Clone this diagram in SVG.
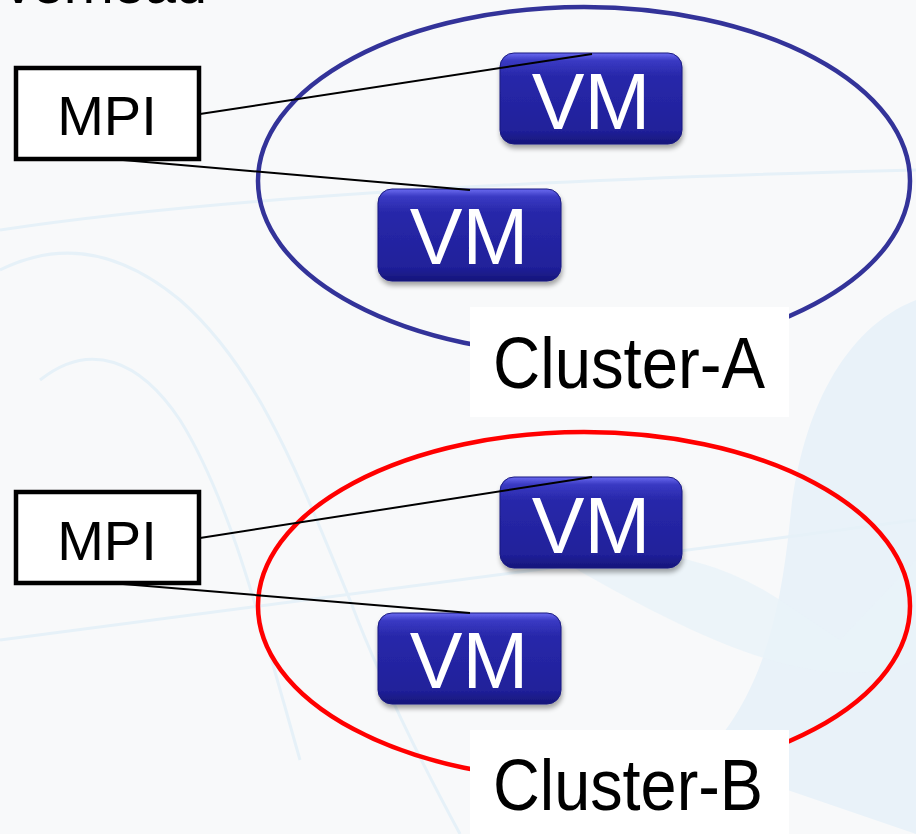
<svg xmlns="http://www.w3.org/2000/svg" width="916" height="834" viewBox="0 0 916 834">
  <defs>
    <linearGradient id="vmFill" x1="0" y1="0" x2="0" y2="1">
      <stop offset="0" stop-color="#6b6bf0"/>
      <stop offset="0.08" stop-color="#3a3ac4"/>
      <stop offset="0.25" stop-color="#2828aa"/>
      <stop offset="0.85" stop-color="#20209a"/>
      <stop offset="1" stop-color="#16167a"/>
    </linearGradient>
    <filter id="shadow" x="-10%" y="-10%" width="125%" height="135%">
      <feGaussianBlur in="SourceAlpha" stdDeviation="2.5"/>
      <feOffset dx="1" dy="4" result="b"/>
      <feComponentTransfer><feFuncA type="linear" slope="0.35"/></feComponentTransfer>
      <feMerge><feMergeNode/><feMergeNode in="SourceGraphic"/></feMerge>
    </filter>
    <style>
      .mpi rect { fill: #ffffff; stroke: #000000; stroke-width: 4.5; }
      .mpi text { font-family: "Liberation Sans", Arial, sans-serif; font-size: 56px; fill: #000000; text-anchor: middle; }
      .vm rect { fill: url(#vmFill); stroke: #1a1a80; stroke-width: 1; }
      .vm text { font-family: "Liberation Sans", Arial, sans-serif; font-size: 79px; fill: #ffffff; text-anchor: middle; }
      .cluster { fill: none; stroke-width: 4.5; }
      .label rect { fill: #ffffff; }
      .label text { font-family: "Liberation Sans", Arial, sans-serif; font-size: 73px; fill: #000000; }
      .wire { stroke: #000000; stroke-width: 2; fill: none; }
      .swoosh { fill: none; stroke: #e6f1f8; stroke-width: 3; }
    </style>
  </defs>

  <!-- slide background with faint decorative swooshes -->
  <rect x="0" y="0" width="916" height="834" fill="#f8f9fa"/>
  <path d="M916 300 C 840 330 800 420 790 520 C 780 620 760 700 700 760 L 916 834 Z" fill="#e9f2f9"/>
  <path d="M560 560 C 640 540 720 560 780 600 L 840 640 L 916 560 L 916 660 C 820 700 700 640 560 560 Z" fill="#e9f2f9" opacity="0.8"/>
  <path class="swoosh" d="M0 270 C 60 240 120 250 180 300 C 260 370 300 480 350 600 C 380 680 420 760 460 834"/>
  <path class="swoosh" d="M40 380 C 90 340 140 360 180 420 C 230 500 260 620 300 760"/>
  <path class="swoosh" d="M0 230 C 200 200 500 180 916 170" stroke-width="2"/>
  <path class="swoosh" d="M0 640 C 300 600 600 560 916 520" stroke-width="2"/>

  <!-- heading text running off the top edge -->
  <text x="207" y="3" font-family="Liberation Sans, Arial, sans-serif" font-size="56" text-anchor="end" fill="#000000">Overhead</text>

  <!-- cluster outlines -->
  <g id="cluster-a">
    <ellipse class="cluster" cx="584" cy="181" rx="326" ry="174" stroke="#333399"/>
  </g>
  <g id="cluster-b">
    <ellipse class="cluster" cx="584" cy="606" rx="326" ry="174" stroke="#ff0000"/>
  </g>

  <!-- virtual machines -->
  <g id="vm-a1" class="vm" filter="url(#shadow)">
    <rect x="500" y="53" width="182" height="91" rx="14"/>
    <text x="591" y="129">VM</text>
  </g>
  <g id="vm-a2" class="vm" filter="url(#shadow)">
    <rect x="378" y="189" width="183" height="92" rx="14"/>
    <text x="469" y="264">VM</text>
  </g>
  <g id="vm-b1" class="vm" filter="url(#shadow)">
    <rect x="500" y="477" width="182" height="91" rx="14"/>
    <text x="591" y="553">VM</text>
  </g>
  <g id="vm-b2" class="vm" filter="url(#shadow)">
    <rect x="378" y="613" width="183" height="91" rx="14"/>
    <text x="469" y="688">VM</text>
  </g>

  <!-- MPI processes -->
  <g id="mpi-a" class="mpi">
    <rect x="16" y="68" width="183" height="91"/>
    <text x="107" y="135">MPI</text>
  </g>
  <g id="mpi-b" class="mpi">
    <rect x="16" y="492" width="183" height="91"/>
    <text x="107" y="560">MPI</text>
  </g>

  <!-- connectors -->
  <g id="connectors">
    <line class="wire" x1="200" y1="114" x2="592" y2="54"/>
    <line class="wire" x1="123" y1="160" x2="470" y2="190"/>
    <line class="wire" x1="200" y1="538" x2="592" y2="477"/>
    <line class="wire" x1="123" y1="584" x2="470" y2="613"/>
  </g>

  <!-- cluster labels -->
  <g id="label-a" class="label">
    <rect x="470" y="307" width="319" height="110"/>
    <text x="493" y="388" textLength="272" lengthAdjust="spacingAndGlyphs">Cluster-A</text>
  </g>
  <g id="label-b" class="label">
    <rect x="470" y="730" width="319" height="104"/>
    <text x="493" y="810" textLength="270" lengthAdjust="spacingAndGlyphs">Cluster-B</text>
  </g>
</svg>
